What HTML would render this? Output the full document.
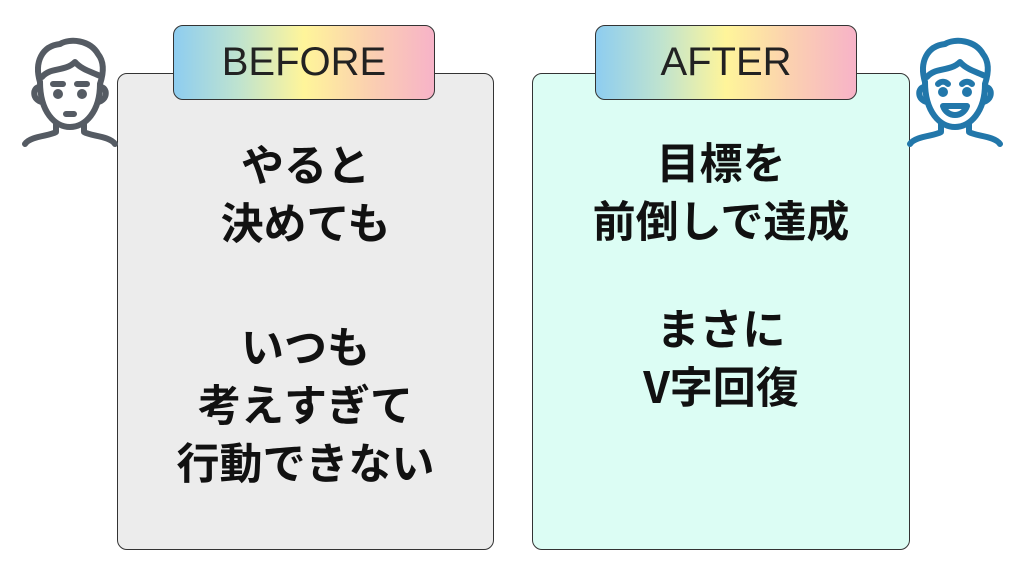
<!DOCTYPE html>
<html><head><meta charset="utf-8"><style>
body{margin:0;width:1024px;height:576px;background:#fff;position:relative;overflow:hidden;font-family:"Liberation Sans","Noto Sans CJK JP",sans-serif}
.box{position:absolute;top:73px;height:477px;border:1.5px solid #333;border-radius:10px;box-sizing:border-box}
.lbl{position:absolute;top:25px;height:75px;width:262px;border:1.5px solid #333;border-radius:10px;box-sizing:border-box;background:linear-gradient(90deg,#8ecdf0 0%,#bfe3cf 25%,#fff59a 50%,#fbd0b0 75%,#f7b3c8 100%);font-size:40px;color:#222;text-align:center;line-height:73px}
.t{position:absolute;text-align:center;font-weight:bold;font-size:43px;color:#111;line-height:58px;font-family:"Noto Sans CJK JP",sans-serif}
</style></head><body>
<div class="box" style="left:117px;width:377px;background:#ececec"></div>
<div class="box" style="left:532px;width:378px;background:#dcfdf4"></div>
<div class="lbl" style="left:173px">BEFORE</div>
<div class="lbl" style="left:595px">AFTER</div>
<div class="t" style="left:117px;width:377px;top:134px">やると<br>決めても</div>
<div class="t" style="left:117px;width:377px;top:316px">いつも<br>考えすぎて<br>行動できない</div>
<div class="t" style="left:532px;width:378px;top:132px">目標を<br>前倒しで達成</div>
<div class="t" style="left:532px;width:378px;top:298px">まさに<br>V字回復</div>
<svg style="position:absolute;left:20px;top:32px" width="100" height="115" viewBox="0 0 100 115" fill="none" stroke="#555b63" stroke-width="6" stroke-linecap="round" stroke-linejoin="round">
<path d="M20 50 C14 30 22 14 40 12 C50 6 70 8 78 22 C86 32 82 46 80 52"/>
<path d="M20 50 C20 80 35 95 50 95 C65 95 80 80 80 52"/>
<path d="M22 45 C30 35 45 40 55 30 C62 38 72 40 80 44"/>
<path d="M20 55 C12 55 12 68 22 70 M80 55 C88 55 88 68 78 70"/>
<circle cx="38" cy="62" r="2" fill="#555b63"/><circle cx="62" cy="62" r="2" fill="#555b63"/>
<path d="M33 52 h10 M57 52 h10 M46 82 h8"/>
<path d="M36 92 V100 C30 104 10 104 5 112 M64 92 V100 C70 104 90 104 95 112"/>
</svg>
<svg style="position:absolute;left:905px;top:32px" width="100" height="115" viewBox="0 0 100 115" fill="none" stroke="#2277aa" stroke-width="6" stroke-linecap="round" stroke-linejoin="round">
<path d="M20 50 C14 30 22 14 40 12 C50 6 70 8 78 22 C86 32 82 46 80 52"/>
<path d="M20 50 C20 80 35 95 50 95 C65 95 80 80 80 52"/>
<path d="M22 45 C30 35 45 40 55 30 C62 38 72 40 80 44"/>
<path d="M20 55 C12 55 12 68 22 70 M80 55 C88 55 88 68 78 70"/>
<circle cx="38" cy="60" r="2" fill="#2277aa"/><circle cx="62" cy="60" r="2" fill="#2277aa"/>
<path d="M33 52 C36 49 40 49 43 52 M57 52 C60 49 64 49 67 52"/>
<path d="M38 74 C42 86 58 86 62 74 Z"/>
<path d="M36 92 V100 C30 104 10 104 5 112 M64 92 V100 C70 104 90 104 95 112"/>
</svg>
</body></html>
